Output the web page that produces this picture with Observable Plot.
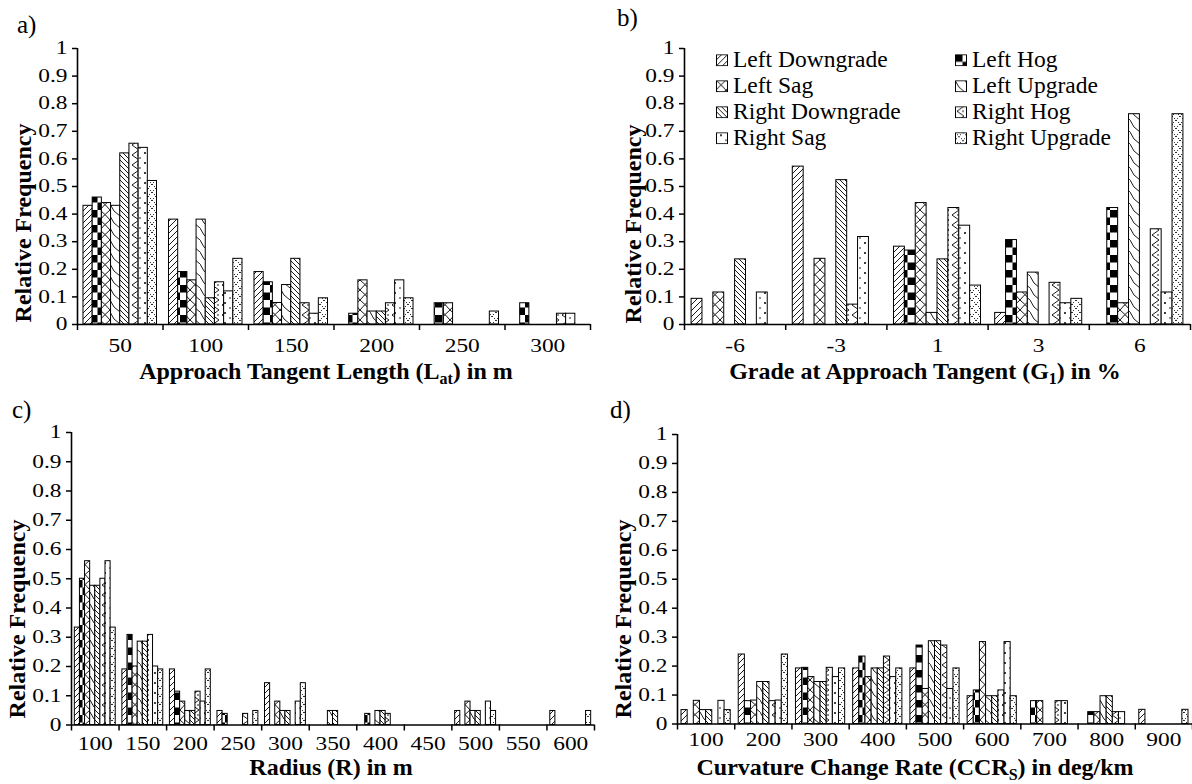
<!DOCTYPE html>
<html>
<head>
<meta charset="utf-8">
<script src="https://cdn.jsdelivr.net/npm/d3@7"></script>
<script src="https://cdn.jsdelivr.net/npm/@observablehq/plot@0.6"></script>
<style>
  html, body { margin: 0; padding: 0; background: #fff; }
  body { width: 1192px; height: 784px; overflow: hidden; position: relative;
         font-family: "Liberation Serif", "Times New Roman", Tinos, Times, "DejaVu Serif", serif; color: #000; }
  .abs { position: absolute; white-space: nowrap; line-height: 1; }
  .panel { position: absolute; }
  .panel svg { overflow: visible; }
  .tag { font-size: 25px; }
  .xt { font-size: 24px; font-weight: bold; transform: translate(-50%, -50%); }
  .yt { font-size: 24px; font-weight: bold; transform: translate(-50%, -50%) rotate(-90deg); }
  .xt sub { font-size: 16px; line-height: 0; vertical-align: -5px; }
  .leg { font-size: 23.5px; display: flex; align-items: center; transform: translateY(-50%); }
  .leg svg { margin-right: 5px; }
</style>
</head>
<body>
<!-- fill patterns shared by every panel and the legend -->
<svg width="0" height="0" style="position:absolute">
  <defs>
    <pattern id="pLD" patternUnits="userSpaceOnUse" width="6" height="6">
      <rect width="6" height="6" fill="#fff"/>
      <path d="M-1,7 L7,-1 M-1,1 L1,-1 M5,7 L7,5" stroke="#000" stroke-width="0.9"/>
    </pattern>
    <pattern id="pLH" patternUnits="userSpaceOnUse" width="15" height="15">
      <rect width="15" height="15" fill="#fff"/>
      <rect x="0" y="0" width="7.5" height="7.5" fill="#000"/>
      <rect x="7.5" y="7.5" width="7.5" height="7.5" fill="#000"/>
    </pattern>
    <pattern id="pLS" patternUnits="userSpaceOnUse" width="10" height="20">
      <rect width="10" height="20" fill="#fff"/>
      <path d="M0,0 Q6,5 10,10 Q4,15 0,20 M10,0 Q4,5 0,10 Q6,15 10,20" fill="none" stroke="#000" stroke-width="0.9"/>
    </pattern>
    <pattern id="pLU" patternUnits="userSpaceOnUse" width="10" height="12">
      <rect width="10" height="12" fill="#fff"/>
      <path d="M0,0 Q3,8 10,12" fill="none" stroke="#000" stroke-width="0.9"/>
    </pattern>
    <pattern id="pRD" patternUnits="userSpaceOnUse" width="5" height="5">
      <rect width="5" height="5" fill="#fff"/>
      <path d="M-1,-1 L6,6 M4,-1 L6,1 M-1,4 L1,6" stroke="#000" stroke-width="0.9"/>
    </pattern>
    <pattern id="pRH" patternUnits="userSpaceOnUse" width="10" height="10">
      <rect width="10" height="10" fill="#fff"/>
      <path d="M9,0 L2,5 L9,10" fill="none" stroke="#000" stroke-width="0.9"/>
      <circle cx="8" cy="5" r="0.8" fill="#000"/>
    </pattern>
    <pattern id="pRS" patternUnits="userSpaceOnUse" width="10" height="10">
      <rect width="10" height="10" fill="#fff"/>
      <circle cx="5" cy="3" r="1" fill="#000"/>
      <circle cx="0" cy="8" r="0.8" fill="#000"/>
      <circle cx="10" cy="8" r="0.8" fill="#000"/>
    </pattern>
    <pattern id="pRU" patternUnits="userSpaceOnUse" width="8" height="8">
      <rect width="8" height="8" fill="#fff"/>
      <path d="M0,0 L8,8 M8,0 L0,8" stroke="#000" stroke-width="0.9" stroke-dasharray="1.3 1.6"/>
    </pattern>
  </defs>
</svg>

<script>
const serifStack = '"Liberation Serif", "Times New Roman", Tinos, Times, "DejaVu Serif", serif';

// Series, in the order the bars sit inside every group
const seriesNames = ["Left Downgrade", "Left Hog", "Left Sag", "Left Upgrade",
                     "Right Downgrade", "Right Hog", "Right Sag", "Right Upgrade"];
const patternIds = ["pLD", "pLH", "pLS", "pLU", "pRD", "pRH", "pRS", "pRU"];

// Shared y ticks
const yTicks = [0, 0.1, 0.2, 0.3, 0.4, 0.5, 0.6, 0.7, 0.8, 0.9, 1];

// a) Approach tangent length (m) — rows are series, columns are groups
const tangentGroups = ["50", "100", "150", "200", "250", "300"];
const tangentFreq = [
  [0.43, 0.38, 0.19, null, null, null],     // Left Downgrade
  [0.46, 0.19, 0.153, 0.039, 0.077, 0.077], // Left Hog
  [0.44, 0.16, 0.078, 0.16, 0.077, null],   // Left Sag
  [0.43, 0.38, 0.143, 0.047, null, null],   // Left Upgrade
  [0.62, 0.095, 0.238, 0.047, null, null],  // Right Downgrade
  [0.655, 0.153, 0.077, 0.077, null, 0.039],// Right Hog
  [0.64, 0.12, 0.039, 0.16, null, 0.039],   // Right Sag
  [0.52, 0.238, 0.095, 0.095, 0.047, null]  // Right Upgrade
];

// b) Grade at approach tangent (%)
const gradeGroups = ["-6", "-3", "1", "3", "6"];
const gradeFreq = [
  [0.093, 0.572, 0.282, 0.042, null],   // Left Downgrade
  [null, null, 0.268, 0.306, 0.422],    // Left Hog
  [0.116, 0.238, 0.44, 0.116, 0.077],   // Left Sag
  [null, null, 0.042, 0.188, 0.762],    // Left Upgrade
  [0.236, 0.523, 0.236, null, null],    // Right Downgrade
  [null, 0.072, 0.422, 0.151, 0.345],   // Right Hog
  [0.116, 0.317, 0.358, 0.077, 0.116],  // Right Sag
  [null, null, 0.141, 0.093, 0.762]     // Right Upgrade
];

// c) Radius (m)
const radiusGroups = ["100", "150", "200", "250", "300", "350", "400", "450", "500", "550", "600"];
const radiusFreq = [
  [0.333, 0.19, 0.19, 0.048, 0.143, null, null, null, 0.048, null, 0.048],   // Left Downgrade
  [0.5, 0.308, 0.114, 0.038, null, null, 0.038, null, null, null, null],     // Left Hog
  [0.56, 0.2, 0.08, null, 0.08, null, null, null, 0.08, null, null],         // Left Sag
  [0.476, 0.285, 0.048, null, 0.048, 0.048, 0.048, null, 0.048, null, null], // Left Upgrade
  [0.476, 0.285, 0.048, null, 0.048, 0.048, 0.048, null, 0.048, null, null], // Right Downgrade
  [0.5, 0.308, 0.114, 0.038, null, null, 0.038, null, null, null, null],     // Right Hog
  [0.56, 0.2, 0.08, null, 0.08, null, null, null, 0.08, null, null],         // Right Sag
  [0.333, 0.19, 0.19, 0.048, 0.143, null, null, null, 0.048, null, 0.048]    // Right Upgrade
];

// d) Curvature change rate (deg/km)
const ccrGroups = ["100", "200", "300", "400", "500", "600", "700", "800", "900"];
const ccrFreq = [
  [0.048, 0.24, 0.192, 0.192, 0.192, 0.096, null, null, 0.049],    // Left Downgrade
  [null, 0.079, 0.194, 0.233, 0.271, 0.116, 0.079, 0.041, null],   // Left Hog
  [0.08, 0.081, 0.162, 0.162, 0.121, 0.283, 0.079, 0.041, null],   // Left Sag
  [0.048, 0.145, 0.145, 0.192, 0.286, 0.096, null, 0.096, null],   // Left Upgrade
  [0.048, 0.145, 0.145, 0.192, 0.286, 0.096, null, 0.096, null],   // Right Downgrade
  [null, 0.079, 0.194, 0.233, 0.271, 0.116, 0.079, 0.041, null],   // Right Hog
  [0.08, 0.081, 0.162, 0.162, 0.121, 0.283, 0.079, 0.041, null],   // Right Sag
  [0.048, 0.24, 0.192, 0.192, 0.192, 0.096, null, null, 0.049]     // Right Upgrade
];

// Share of each group's width left empty on either side of its bars
const groupPad = 0.07;
// Tick labels are set in a horizontally widened face
const tickStretch = 1.3;

function widenTickLabels(svg) {
  svg.querySelectorAll('g[aria-label$="tick label"] text').forEach(t => {
    const tr = t.getAttribute("transform");
    if (tr) {
      t.setAttribute("transform", `${tr} scale(${tickStretch},1)`);
    } else {
      const x = t.getAttribute("x") || 0, y = t.getAttribute("y") || 0;
      t.removeAttribute("x"); t.removeAttribute("y");
      t.setAttribute("transform", `translate(${x},${y}) scale(${tickStretch},1)`);
    }
  });
}

function groupedBars(groups, freq, box) {
  const nSeries = seriesNames.length;
  const slot = (1 - 2 * groupPad) / nSeries;
  const rows = [];
  freq.forEach((vals, s) => vals.forEach((v, g) => {
    if (v != null) rows.push({series: seriesNames[s], g, s, value: v});
  }));
  const chart = Plot.plot({
    width: box.width, height: box.height,
    marginLeft: box.ml, marginRight: box.mr, marginTop: box.mt, marginBottom: box.mb,
    style: {background: "transparent", fontFamily: serifStack,
            fontSize: "18px", color: "#000", overflow: "visible"},
    x: {type: "linear", domain: [0, groups.length]},
    y: {domain: [0, 1]},
    color: {domain: seriesNames, range: patternIds.map(id => `url(#${id})`)},
    marks: [
      Plot.rect(rows, {
        x1: d => d.g + groupPad + d.s * slot,
        x2: d => d.g + groupPad + (d.s + 1) * slot,
        y1: 0, y2: "value",
        fill: "series", stroke: "#000", strokeWidth: 1
      }),
      Plot.ruleY([0], {stroke: "#000", strokeWidth: 1.6}),
      Plot.ruleX([0], {stroke: "#000", strokeWidth: 1.6}),
      // group boundaries
      Plot.axisX(d3.range(groups.length + 1), {tickSize: 6, tickFormat: () => "", strokeWidth: 1.5, label: null}),
      // group labels at the centres
      Plot.axisX(groups.map((_, i) => i + 0.5), {tickSize: 0, tickPadding: box.tp,
        tickFormat: d => groups[Math.floor(d)], label: null}),
      Plot.axisY(yTicks, {tickSize: 5, tickPadding: 5, strokeWidth: 1.5,
        tickFormat: d => String(d), label: null})
    ]
  });
  widenTickLabels(chart);
  const holder = document.createElement("div");
  holder.className = "panel";
  holder.style.left = box.left + "px";
  holder.style.top = box.top + "px";
  holder.appendChild(chart);
  document.body.appendChild(holder);
}

groupedBars(tangentGroups, tangentFreq, {left: 0, top: 0, width: 600, height: 360, ml: 77, mr: 10, mt: 48, mb: 36, tp: 15});
groupedBars(gradeGroups, gradeFreq, {left: 600, top: 0, width: 592, height: 360, ml: 84, mr: 2, mt: 48, mb: 36, tp: 15});
groupedBars(radiusGroups, radiusFreq, {left: 0, top: 400, width: 600, height: 360, ml: 71, mr: 6, mt: 32, mb: 35.5, tp: 12});
groupedBars(ccrGroups, ccrFreq, {left: 600, top: 400, width: 592, height: 360, ml: 77, mr: 0, mt: 34, mb: 36.5, tp: 9});

// Text around the panels
function addText(html, cls, x, y) {
  const el = document.createElement("div");
  el.className = "abs " + cls;
  el.style.left = x + "px";
  el.style.top = y + "px";
  el.innerHTML = html;
  document.body.appendChild(el);
  return el;
}
const tags = [["a)", 17, 12], ["b)", 617, 5], ["c)", 12, 397], ["d)", 610, 397]];
tags.forEach(([t, x, y]) => addText(t, "tag", x, y));

const yTitle = "Relative Frequency";
[[23, 223], [633, 224], [17, 619], [623, 619]].forEach(([x, y]) => addText(yTitle, "yt", x, y));

addText("Approach Tangent Length (L<sub>at</sub>) in m", "xt", 326, 371);
addText("Grade at Approach Tangent (G<sub>1</sub>) in %", "xt", 925, 371);
addText("Radius (R) in m", "xt", 331, 767);
addText("Curvature Change Rate (CCR<sub>S</sub>) in deg/km", "xt", 915, 767);

// Legend inside panel b: two columns of four
const legendCols = [716, 955];
const legendRows = [60, 86, 112, 138];
seriesNames.forEach((name, i) => {
  const col = i % 2, row = Math.floor(i / 2);
  const el = addText("", "leg", legendCols[col], legendRows[row]);
  el.innerHTML = `<svg width="12" height="12"><rect x="0.5" y="0.5" width="11" height="11" fill="url(#${patternIds[i]})" stroke="#000" stroke-width="1"/></svg><span>${name}</span>`;
});
</script>
</body>
</html>
